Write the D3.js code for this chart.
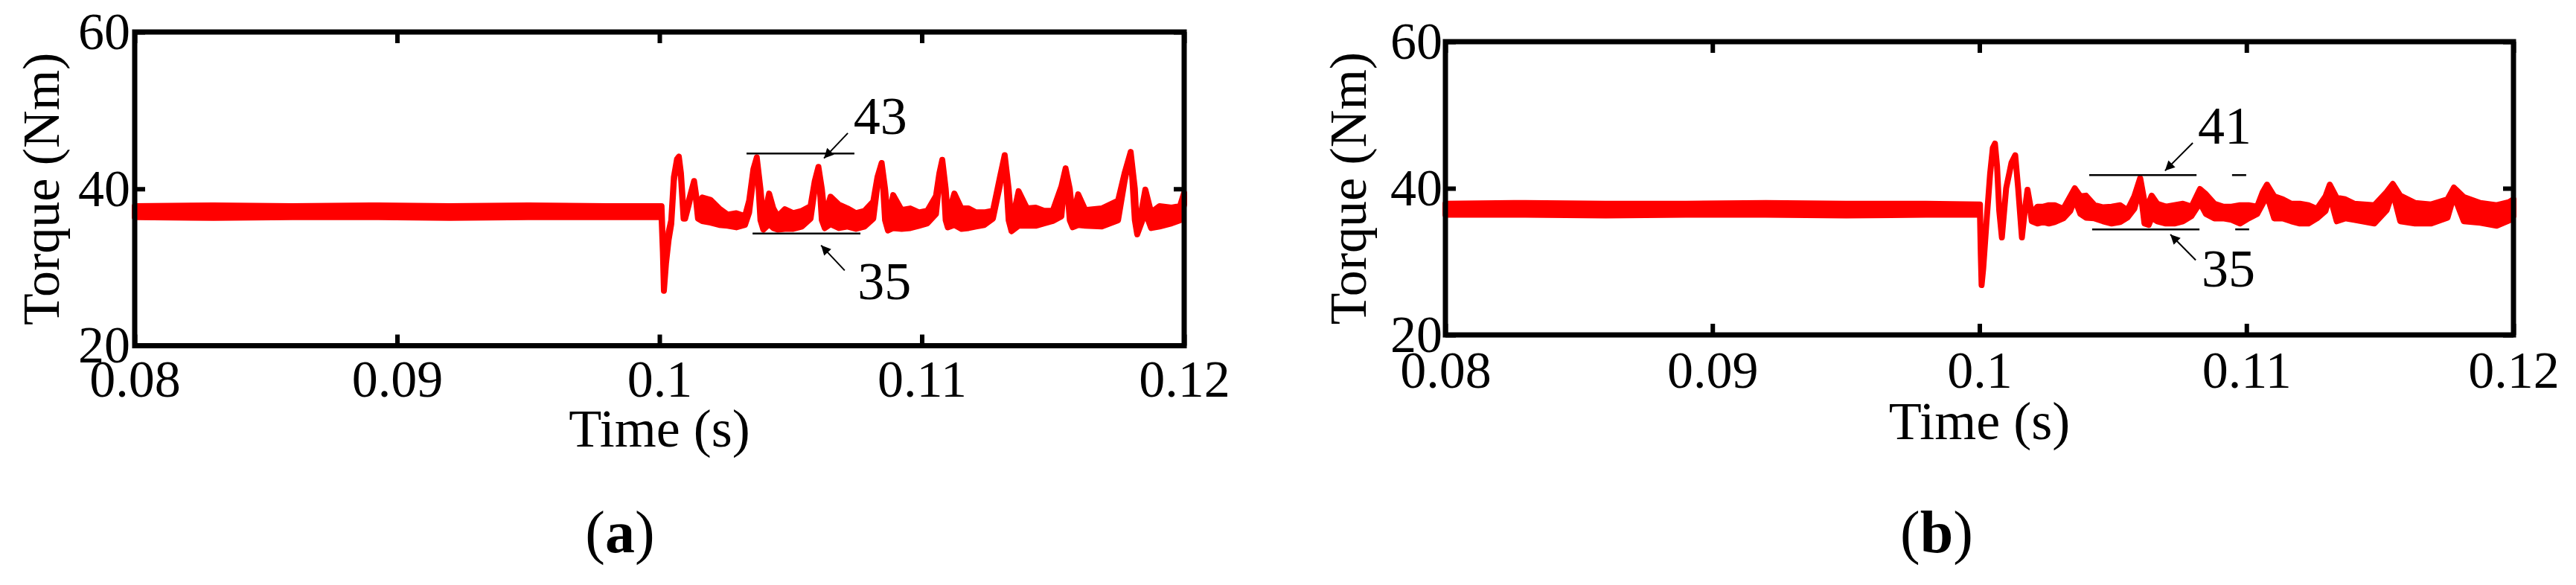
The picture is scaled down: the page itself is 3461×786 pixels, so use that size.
<!DOCTYPE html>
<html>
<head>
<meta charset="utf-8">
<script src="https://cdn.jsdelivr.net/npm/d3@7"></script>
<style>
  html, body { margin: 0; padding: 0; background: #fff; }
  svg text { font-family: "Liberation Serif", "Times New Roman", serif; fill: #000; }
</style>
</head>
<body>
<svg id="chart"></svg>
<script>
// axis ticks
const xTicks = [0.08, 0.09, 0.1, 0.11, 0.12];
const yTicks = [20, 40, 60];

// panel (a): torque envelope (upper / lower edge of the ripple band), Nm
const timeA = [0.0800, 0.0830, 0.0860, 0.0890, 0.0920, 0.0950, 0.0980, 0.10008, 0.10013, 0.10017,
  0.10025, 0.10035, 0.10045, 0.10055, 0.10067, 0.10074, 0.10082, 0.10092, 0.10098, 0.10112,
  0.10132, 0.10147, 0.10163, 0.10195, 0.10228, 0.10260, 0.10293, 0.10326, 0.10342, 0.10358,
  0.10371, 0.10385, 0.10396, 0.10418, 0.10434, 0.10451, 0.10478, 0.10510, 0.10543, 0.10576,
  0.10592, 0.10606, 0.10619, 0.10630, 0.10652, 0.10684, 0.10717, 0.10749, 0.10782, 0.10815,
  0.10831, 0.10847, 0.10860, 0.10871, 0.10891, 0.10923, 0.10956, 0.10989, 0.11021, 0.11054,
  0.11067, 0.11078, 0.11091, 0.11099, 0.11124, 0.11151, 0.11178, 0.11206, 0.11238, 0.11271,
  0.11298, 0.11316, 0.11331, 0.11342, 0.11369, 0.11401, 0.11434, 0.11466, 0.11499, 0.11532,
  0.11548, 0.11564, 0.11575, 0.11596, 0.11623, 0.11686, 0.11748, 0.11773, 0.11796, 0.11812,
  0.11821, 0.11852, 0.11874, 0.11906, 0.11952, 0.11984, 0.12000];
const upperA = [37.8, 37.9, 37.8, 37.9, 37.8, 37.9, 37.8, 37.8, 33.0, 27.0,
  30.5, 34.5, 36.0, 41.5, 43.8, 44.1, 42.0, 37.0, 36.3, 38.5,
  41.0, 37.5, 38.9, 38.6, 37.5, 36.7, 36.9, 36.5, 38.5, 42.5,
  44.0, 40.0, 36.0, 39.4, 37.5, 36.5, 37.4, 36.9, 37.2, 37.8,
  41.0, 42.8, 40.0, 36.5, 39.0, 38.0, 37.5, 36.9, 37.2, 38.4,
  41.5, 43.3, 40.0, 36.0, 39.2, 37.3, 37.5, 37.0, 37.2, 39.1,
  42.0, 43.7, 40.0, 36.5, 39.4, 37.5, 37.5, 37.0, 37.0, 37.2,
  41.5, 44.3, 40.0, 35.5, 39.7, 37.5, 37.6, 37.2, 37.2, 40.3,
  42.6, 40.0, 36.5, 39.3, 37.3, 37.5, 38.5, 42.0, 44.7, 40.0,
  34.2, 39.9, 37.0, 37.8, 37.6, 37.8, 39.5];
const lowerA = [36.4, 36.3, 36.4, 36.4, 36.3, 36.4, 36.4, 36.4, 32.0, 27.0,
  30.5, 33.5, 35.5, 41.0, 43.8, 44.1, 41.5, 36.2, 36.2, 38.0,
  41.0, 36.2, 35.9, 35.7, 35.4, 35.3, 35.1, 35.4, 37.0, 41.5,
  44.0, 36.0, 34.8, 35.5, 35.0, 34.8, 34.9, 34.9, 35.2, 36.2,
  40.0, 42.8, 36.0, 35.0, 35.5, 35.0, 35.2, 34.9, 35.2, 36.2,
  40.5, 43.3, 36.0, 34.7, 35.0, 34.9, 35.0, 35.3, 35.6, 36.8,
  41.0, 43.7, 36.0, 35.1, 35.4, 34.9, 35.0, 35.2, 35.4, 36.2,
  40.5, 44.3, 36.0, 34.6, 35.3, 35.3, 35.3, 35.6, 35.9, 36.5,
  42.6, 36.0, 35.1, 35.4, 35.3, 35.2, 36.0, 41.0, 44.7, 36.0,
  34.2, 37.0, 35.0, 35.2, 35.6, 36.0, 38.0];

// panel (b): torque envelope, Nm
const timeB = [0.0800, 0.0830, 0.0860, 0.0890, 0.0920, 0.0950, 0.0980, 0.10002, 0.10005, 0.10008,
  0.10014, 0.10026, 0.10040, 0.10050, 0.10058, 0.10066, 0.10074, 0.10084, 0.10100, 0.10120,
  0.10134, 0.10145, 0.10159, 0.10170, 0.10180, 0.10196, 0.10217, 0.10239, 0.10260, 0.10282,
  0.10314, 0.10340, 0.10357, 0.10378, 0.10399, 0.10431, 0.10463, 0.10495, 0.10527, 0.10554,
  0.10580, 0.10602, 0.10618, 0.10634, 0.10645, 0.10666, 0.10698, 0.10730, 0.10762, 0.10794,
  0.10826, 0.10848, 0.10880, 0.10912, 0.10944, 0.10976, 0.11008, 0.11040, 0.11061, 0.11077,
  0.11104, 0.11136, 0.11168, 0.11200, 0.11232, 0.11264, 0.11296, 0.11312, 0.11338, 0.11370,
  0.11403, 0.11479, 0.11525, 0.11548, 0.11576, 0.11631, 0.11692, 0.11753, 0.11777, 0.11814,
  0.11876, 0.11937, 0.11983, 0.12000];
const upperB = [37.9, 38.0, 37.9, 37.9, 38.0, 37.9, 37.9, 37.8, 32.0, 26.8,
  29.0, 35.2, 42.0, 45.5, 46.1, 43.0, 37.0, 33.3, 40.0, 43.5,
  44.5, 40.0, 33.3, 37.0, 39.8, 36.5, 37.5, 37.5, 37.7, 37.7,
  37.2, 38.9, 40.0, 38.9, 39.0, 37.7, 37.4, 37.5, 37.7, 37.0,
  38.9, 41.4, 38.2, 38.0, 39.0, 37.9, 37.5, 37.7, 37.9, 37.5,
  39.9, 39.2, 37.9, 37.5, 37.5, 37.7, 37.7, 37.5, 39.5, 40.5,
  38.9, 38.5, 37.9, 37.9, 37.7, 37.2, 38.9, 40.5, 38.7, 38.5,
  37.9, 37.7, 39.5, 40.6, 39.0, 38.0, 37.8, 38.5, 40.1, 38.8,
  38.0, 37.7, 38.1, 38.5];
const lowerB = [36.4, 36.4, 36.3, 36.4, 36.4, 36.3, 36.4, 36.4, 31.0, 26.8,
  29.0, 35.2, 42.0, 45.5, 46.1, 43.0, 37.0, 33.3, 40.0, 43.5,
  44.5, 40.0, 33.3, 37.0, 39.8, 35.5, 35.2, 35.4, 35.2, 35.4,
  35.9, 36.9, 38.5, 36.5, 36.0, 35.9, 35.5, 35.2, 35.4, 36.0,
  37.2, 40.0, 35.2, 35.0, 36.0, 35.5, 35.2, 35.2, 35.5, 36.2,
  38.0, 36.5, 35.9, 35.9, 35.7, 35.2, 35.9, 36.5, 37.9, 39.0,
  35.9, 35.9, 35.5, 35.2, 35.2, 35.9, 36.9, 39.0, 35.5, 35.9,
  35.7, 35.2, 37.0, 39.5, 35.5, 35.2, 35.2, 36.0, 39.0, 35.5,
  35.3, 34.9, 35.6, 36.2];

// annotations (time s, torque Nm)
const levelsA = [{ t0: 0.10332, t1: 0.10743, v: 44.5 }, { t0: 0.10355, t1: 0.10766, v: 34.3 }];
const arrowsA = [{ t0: 0.10718, v0: 47.1, t1: 0.10627, v1: 43.9 }, { t0: 0.10706, v0: 29.6, t1: 0.10616, v1: 32.8 }];
const notesA = [{ t: 0.10740, v: 47.0, text: "43" }, { t: 0.10755, v: 25.9, text: "35" }];

const levelsB = [{ t0: 0.10411, t1: 0.10813, v: 41.8 }, { t0: 0.10946, t1: 0.10999, v: 41.8 },
  { t0: 0.10422, t1: 0.10824, v: 34.4 }, { t0: 0.10958, t1: 0.11010, v: 34.4 }];
const arrowsB = [{ t0: 0.10799, v0: 46.2, t1: 0.10695, v1: 42.4 }, { t0: 0.10810, v0: 30.2, t1: 0.10715, v1: 33.7 }];
const notesB = [{ t: 0.10818, v: 46.1, text: "41" }, { t: 0.10832, v: 26.6, text: "35" }];

const svg = d3.select("#chart").attr("width", 3461).attr("height", 786);

svg.append("defs").append("marker")
  .attr("id", "head")
  .attr("viewBox", "0 0 10 10")
  .attr("refX", 10).attr("refY", 5)
  .attr("markerUnits", "userSpaceOnUse")
  .attr("markerWidth", 20).attr("markerHeight", 13)
  .attr("orient", "auto")
  .append("path").attr("d", "M0,0 L10,5 L0,10 z").attr("fill", "#000");

function styleAxis(sel, size) {
  sel.select(".domain").remove();
  sel.selectAll(".tick line").attr("stroke", "#000").attr("stroke-width", 6);
  sel.attr("font-size", size).attr("font-family", "'Liberation Serif', 'Times New Roman', serif");
}

function drawPanel(p) {
  const g = svg.append("g");
  const x = d3.scaleLinear().domain([0.08, 0.12]).range([p.left, p.right]);
  const y = d3.scaleLinear().domain([20, 60]).range([p.bottom, p.top]);

  const rows = p.time.map((t, i) => ({ t: t, hi: p.upper[i], lo: p.lower[i] }));
  const band = d3.area()
    .x(d => x(d.t))
    .y0(d => y(d.lo))
    .y1(d => y(d.hi));

  g.append("path")
    .datum(rows)
    .attr("d", band)
    .attr("fill", "#ff0000")
    .attr("stroke", "#ff0000")
    .attr("stroke-width", 8)
    .attr("stroke-linejoin", "round");

  // axes with inward ticks on all four sides
  const bottom = g.append("g")
    .attr("transform", `translate(0,${p.bottom})`)
    .call(d3.axisBottom(x).tickValues(xTicks).tickFormat(d => String(d)).tickSize(-15).tickPadding(p.xPad));
  styleAxis(bottom, 70);

  const top = g.append("g")
    .attr("transform", `translate(0,${p.top})`)
    .call(d3.axisTop(x).tickValues(xTicks).tickFormat("").tickSize(-15));
  styleAxis(top, 70);

  const left = g.append("g")
    .attr("transform", `translate(${p.left},0)`)
    .call(d3.axisLeft(y).tickValues(yTicks).tickSize(-14).tickPadding(p.yPad));
  styleAxis(left, 70);

  const right = g.append("g")
    .attr("transform", `translate(${p.right},0)`)
    .call(d3.axisRight(y).tickValues(yTicks).tickFormat("").tickSize(-14));
  styleAxis(right, 70);

  g.append("rect")
    .attr("x", p.left).attr("y", p.top)
    .attr("width", p.right - p.left).attr("height", p.bottom - p.top)
    .attr("fill", "none").attr("stroke", "#000").attr("stroke-width", 7);

  // annotations
  g.selectAll(".level").data(p.levels).enter().append("line")
    .attr("x1", d => x(d.t0)).attr("x2", d => x(d.t1))
    .attr("y1", d => y(d.v)).attr("y2", d => y(d.v))
    .attr("stroke", "#000").attr("stroke-width", 2.5);

  g.selectAll(".arrow").data(p.arrows).enter().append("line")
    .attr("x1", d => x(d.t0)).attr("y1", d => y(d.v0))
    .attr("x2", d => x(d.t1)).attr("y2", d => y(d.v1))
    .attr("stroke", "#000").attr("stroke-width", 2)
    .attr("marker-end", "url(#head)");

  g.selectAll(".note").data(p.notes).enter().append("text")
    .attr("x", d => x(d.t)).attr("y", d => y(d.v))
    .attr("font-size", 72)
    .text(d => d.text);

  // titles
  g.append("text")
    .attr("x", (p.left + p.right) / 2).attr("y", p.xTitleY)
    .attr("text-anchor", "middle").attr("font-size", 72)
    .text("Time (s)");

  g.append("text")
    .attr("transform", `translate(${p.yTitleX},${(p.top + p.bottom) / 2}) rotate(-90)`)
    .attr("text-anchor", "middle").attr("font-size", 70)
    .text("Torque (Nm)");

  const cap = g.append("text")
    .attr("x", p.capX).attr("y", 742)
    .attr("text-anchor", "middle").attr("font-size", 80);
  cap.append("tspan").text("(");
  cap.append("tspan").attr("font-weight", "bold").text(p.cap);
  cap.append("tspan").text(")");
}

drawPanel({
  time: timeA, upper: upperA, lower: lowerA,
  levels: levelsA, arrows: arrowsA, notes: notesA,
  left: 181, right: 1591, top: 43, bottom: 464.5,
  xPad: 19, yPad: 6, xTitleY: 600, yTitleX: 79, capX: 833, cap: "a"
});

drawPanel({
  time: timeB, upper: upperB, lower: lowerB,
  levels: levelsB, arrows: arrowsB, notes: notesB,
  left: 1942, right: 3377, top: 56, bottom: 450,
  xPad: 21, yPad: 4, xTitleY: 590, yTitleX: 1835, capX: 2602, cap: "b"
});
</script>
</body>
</html>
